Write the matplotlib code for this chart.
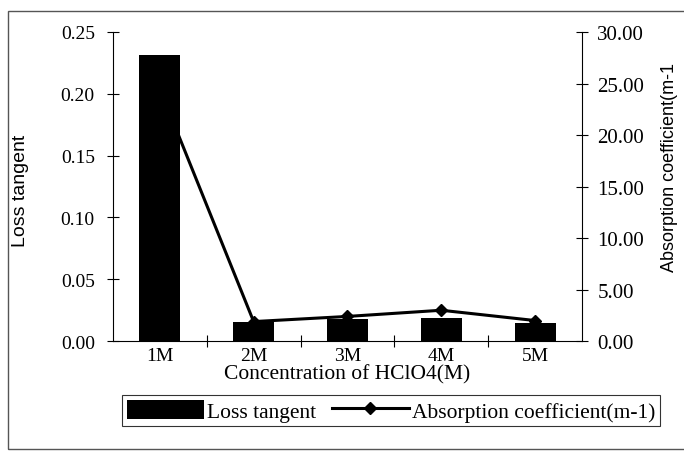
import matplotlib.pyplot as plt
from matplotlib.patches import Rectangle

# data
conc = ['1M', '2M', '3M', '4M', '5M']
loss_tangent = [0.231, 0.0155, 0.018, 0.019, 0.0148]
absorption = [24.5, 1.9, 2.4, 3.0, 2.0]

plt.rcParams['font.family'] = ['Liberation Serif', 'DejaVu Serif']
plt.rcParams['font.size'] = 14

fig = plt.figure(figsize=(6.84, 4.52), dpi=100)
ax = fig.add_axes([0.165, 0.243, 0.686, 0.684])

x = list(range(len(conc)))
bars = ax.bar(x, loss_tangent, width=0.44, color='black', label='Loss tangent', zorder=2)
ax.set_xlim(-0.5, len(conc) - 0.5)
ax.set_ylim(0, 0.25)
ax.set_yticks([0, 0.05, 0.10, 0.15, 0.20, 0.25])
ax.set_yticklabels(['0.00', '0.05', '0.10', '0.15', '0.20', '0.25'])
ax.set_xticks(x)
ax.set_xticklabels(conc)
ax.set_xticks([i + 0.5 for i in x[:-1]], minor=True)
ax.tick_params(axis='x', which='major', length=0, pad=4, labelsize=14)
ax.tick_params(axis='x', which='minor', direction='inout', length=8, width=0.8)
ax.tick_params(axis='y', direction='inout', length=8, width=0.8, pad=9, labelsize=14)
ax.spines['top'].set_visible(False)
ax.spines['right'].set_visible(False)
for s in ['left', 'bottom']:
    ax.spines[s].set_linewidth(0.8)
ax.set_xlabel('Concentration of HClO4(M)', fontsize=15.5, labelpad=0)
ax.set_ylabel('Loss tangent', family=['Liberation Sans'], fontsize=14)
ax.yaxis.set_label_coords(-0.178, 0.49)

ax2 = ax.twinx()
line, = ax2.plot(x, absorption, '-D', color='black', lw=2.2, ms=6.5,
                 label='Absorption coefficient(m-1)', zorder=3)
ax2.set_ylim(0, 30)
ax2.set_yticks([0, 5, 10, 15, 20, 25, 30])
ax2.set_yticklabels(['%.2f' % v for v in [0, 5, 10, 15, 20, 25, 30]])
ax2.tick_params(axis='y', direction='inout', length=8, width=0.8, pad=7, labelsize=15)
ax2.spines['top'].set_visible(False)
ax2.spines['left'].set_visible(False)
ax2.spines['bottom'].set_visible(False)
ax2.spines['right'].set_linewidth(0.8)
ax2.set_ylabel('Absorption coefficient(m-1', family=['Liberation Sans'], fontsize=13)
ax2.yaxis.set_label_coords(1.168, 0.565)

leg = fig.legend([bars, line], ['Loss tangent', 'Absorption coefficient(m-1)'],
                 loc='center', bbox_to_anchor=(0.572, 0.089), ncol=2,
                 frameon=True, fancybox=False, edgecolor='black',
                 handlelength=3.6, handleheight=1.0, columnspacing=0.7,
                 handletextpad=0.15, borderpad=0.2, fontsize=15.5)
leg.get_frame().set_linewidth(0.8)

# outer chart border (right side runs off the picture)
fig.patches.append(Rectangle((8 / 684, 0.005), 0.99, 1 - 12 / 452 - 0.005,
                             transform=fig.transFigure, fill=False,
                             edgecolor='#555555', lw=1.0))

fig.savefig('out.png', dpi=100)
